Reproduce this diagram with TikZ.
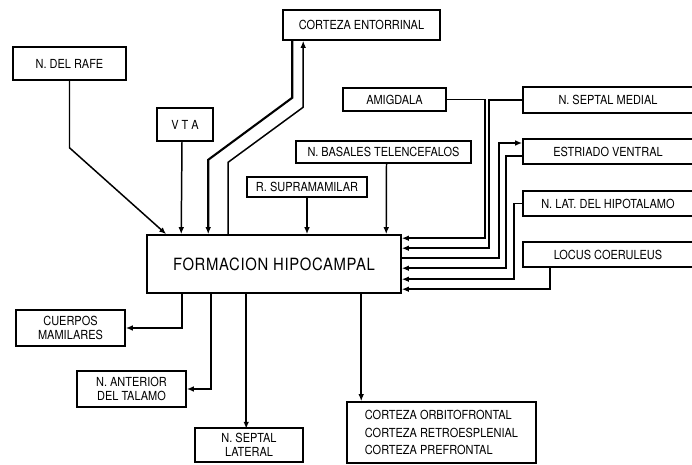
\documentclass[tikz,border=0pt]{standalone}
\usepackage{fontspec}
\setmainfont{TeX Gyre Heros}[FakeStretch=0.88]
\usepackage{tikz}
\usetikzlibrary{calc,arrows.meta}
\tikzset{
	caja/.style 2 args={draw,rectangle,line width=0.9pt,inner sep=0pt,align=center,
		minimum width=#1*0.02cm,minimum height=#2*0.02cm,font=\fontsize{7.1}{7.7}\selectfont},
	fibra/.style={line width=0.85pt,arrows={-Latex[length=4pt,width=3.2pt]}},
	gruesa/.style={fibra,line width=1.2pt}
	}

\begin{document}
\begin{tikzpicture}[x=0.02cm,y=-0.02cm]
      \useasboundingbox (0,0) rectangle (692,465);
      % aferencias superiores
      \node[caja={157}{30}] (ento) at (361.5,25) {CORTEZA ENTORRINAL};
      \node[caja={113}{33}] (rafe) at (69.5,63.5) {N. DEL RAFE};
      \node[caja={56}{33}] (vta) at (185,124.5) {V T A};
      \node[caja={103}{23}] (amig) at (394.5,99.5) {AMIGDALA};
      \node[caja={175}{22}] (basales) at (383.5,152) {N. BASALES TELENCEFALOS};
      \node[caja={120}{20}] (supra) at (307,187) {R. SUPRAMAMILAR};
      % columna derecha
      \node[caja={170}{26}] (septmed) at (608,100) {N. SEPTAL MEDIAL};
      \node[caja={170}{25}] (estr) at (608,151.5) {ESTRIADO VENTRAL};
      \node[caja={170}{25}] (lathip) at (608,203.5) {N. LAT. DEL HIPOTALAMO};
      \node[caja={170}{25}] (locus) at (608,254.5) {LOCUS COERULEUS};
      % centro
      \node[caja={254}{58},font=\fontsize{9.6}{11}\selectfont\addfontfeatures{LetterSpace=4}] (fh) at (274,264) {FORMACION HIPOCAMPAL};
      % eferencias
      \node[caja={109}{36}] (mam) at (70.5,328) {CUERPOS\\MAMILARES};
      \node[caja={109}{36}] (ant) at (131.5,389) {N. ANTERIOR\\DEL TALAMO};
      \node[caja={108}{34}] (septlat) at (249,445) {N. SEPTAL\\LATERAL};
      \node[caja={189}{61},align=left,font=\fontsize{7.1}{10.2}\selectfont] (cort) at (441.5,432.5)
        {CORTEZA ORBITOFRONTAL\\CORTEZA RETROESPLENIAL\\CORTEZA PREFRONTAL};

      \draw[fibra] (rafe.south) -- ++(0,67) -- ($(fh.north west)+(20,0)$);
      \draw[fibra] ($(vta.south)+(-3,0)$) -- ($(fh.north west)+(35,0)$);
      \draw[gruesa] ($(ento.south west)+(10,0)$) -- ++(0,57) -- ++(-84,62) -- ($(fh.north west)+(62,0)$);
      \draw[fibra] ($(fh.north west)+(82,0)$) -- ++(0,-72) -- ++(75,-55) -- ($(ento.south west)+(21,0)$);
      \draw[fibra] (supra.south) -- (supra.south |- fh.north);
      \draw[fibra] ($(basales.south)+(3,0)$) -- ($(fh.north west)+(240,0)$);

      \draw[fibra] (amig.east) -- ++(38,0) |- ($(fh.north east)+(0,4)$);
      \draw[fibra] (septmed.west) -- ++(-33,0) |- ($(fh.north east)+(0,14)$);
      \draw[fibra] ($(fh.north east)+(0,24)$) -- ++(97,0) |- ($(estr.west)+(0,-8.5)$);
      \draw[fibra] ($(estr.west)+(0,4.5)$) -- ++(-16,0) |- ($(fh.north east)+(0,34)$);
      \draw[fibra] (lathip.west) -- ++(-8,0) |- ($(fh.north east)+(0,45)$);
      \draw[fibra] ($(locus.south west)+(28,0)$) |- ($(fh.north east)+(0,55)$);

      \draw[fibra] ($(fh.south west)+(36,0)$) |- (mam.east);
      \draw[fibra] ($(fh.south west)+(65,0)$) |- (ant.east);
      \draw[fibra] ($(fh.south west)+(100,0)$) -- ++(0,135);
      \draw[fibra] ($(fh.south west)+(215,0)$) -- ($(cort.north west)+(15,0)$);
    \end{tikzpicture}
\end{document}
